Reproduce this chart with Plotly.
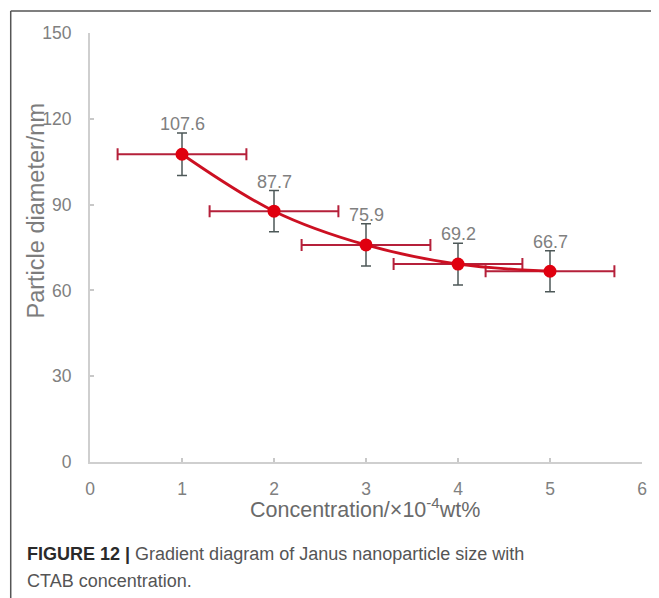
import plotly.graph_objects as go

# ---- data ----
concentration = [1, 2, 3, 4, 5]
diameter = [107.6, 87.7, 75.9, 69.2, 66.7]
diameter_err = [7.4, 7.2, 7.4, 7.3, 7.2]
conc_err = [0.7, 0.7, 0.7, 0.7, 0.7]
value_labels = ["107.6", "87.7", "75.9", "69.2", "66.7"]
x_ticks = [0, 1, 2, 3, 4, 5, 6]
y_ticks = [0, 30, 60, 90, 120, 150]

# page body has an 8px margin; figure sized to fit the window
OFF = 8
W, H = 659 - OFF, 598 - OFF
L, R, T, B = 82, 12, 25, 136
PW, PH = W - L - R, H - T - B


def px(sx):
    return (sx - OFF - L) / PW


def py(sy):
    return (H - B - (sy - OFF)) / PH


SANS = "Liberation Sans, Arial, sans-serif"

fig = go.Figure()
fig.add_trace(go.Scatter(
    x=concentration, y=diameter,
    mode="lines+markers",
    line=dict(color="#cc1022", width=2.8, shape="spline", smoothing=1.0),
    marker=dict(color="#e0000f", size=13),
    error_x=dict(type="data", array=conc_err, visible=True,
                 color="#b5203a", thickness=2, width=6),
    error_y=dict(type="data", array=diameter_err, visible=True,
                 color="#4d5858", thickness=1.5, width=5),
    showlegend=False,
    hoverinfo="skip",
))

annotations = []
for xv, yv, ev, t in zip(concentration, diameter, diameter_err, value_labels):
    annotations.append(dict(
        x=xv, y=yv + ev, xref="x", yref="y", text=t, showarrow=False,
        yanchor="bottom", yshift=-3,
        font=dict(family=SANS, size=18, color="#808080"),
    ))

# axis titles
annotations.append(dict(
    x=px(36), y=py(210), xref="paper", yref="paper",
    text="Particle diameter/nm", textangle=-90, showarrow=False,
    xanchor="center", yanchor="middle",
    font=dict(family=SANS, size=23.5, color="#7d7d7d"),
))
annotations.append(dict(
    x=px(367), y=py(508), xref="paper", yref="paper",
    text="Concentration/×10<sup>-4</sup>wt%", showarrow=False,
    xanchor="center", yanchor="middle",
    font=dict(family=SANS, size=21.5, color="#6a6a6a"),
))

# caption
annotations.append(dict(
    x=px(24), y=py(554), xref="paper", yref="paper",
    text="<b>FIGURE 12 |</b> <span style='color:#555'>Gradient diagram of Janus nanoparticle size with</span>",
    showarrow=False, xanchor="left", yanchor="middle", align="left",
    font=dict(family=SANS, size=18, color="#2a2a2a"),
))
annotations.append(dict(
    x=px(24), y=py(581), xref="paper", yref="paper",
    text="CTAB concentration.",
    showarrow=False, xanchor="left", yanchor="middle", align="left",
    font=dict(family=SANS, size=18, color="#555555"),
))

shapes = [
    dict(type="line", xref="paper", yref="paper",
         x0=px(10), x1=px(10), y0=py(11), y1=py(598),
         line=dict(color="#555555", width=1.5)),
    dict(type="line", xref="paper", yref="paper",
         x0=px(10), x1=px(659), y0=py(11), y1=py(11),
         line=dict(color="#555555", width=1.5)),
]

axis_common = dict(
    showline=True, linecolor="#cfcfcf", linewidth=2,
    ticks="inside", ticklen=4, tickcolor="#c8c8c8", tickwidth=1.5,
    showgrid=False, zeroline=False,
    tickfont=dict(family=SANS, size=17.5, color="#808080"),
)

fig.update_layout(
    width=W, height=H,
    margin=dict(l=L, r=R, t=T, b=B),
    paper_bgcolor="white", plot_bgcolor="white",
    xaxis=dict(range=[0, 6], tickvals=x_ticks, ticklabelstandoff=10, **axis_common),
    yaxis=dict(range=[0, 150], tickvals=y_ticks, ticklabelstandoff=13, **axis_common),
    annotations=annotations,
    shapes=shapes,
)

fig.write_html("out.html")
